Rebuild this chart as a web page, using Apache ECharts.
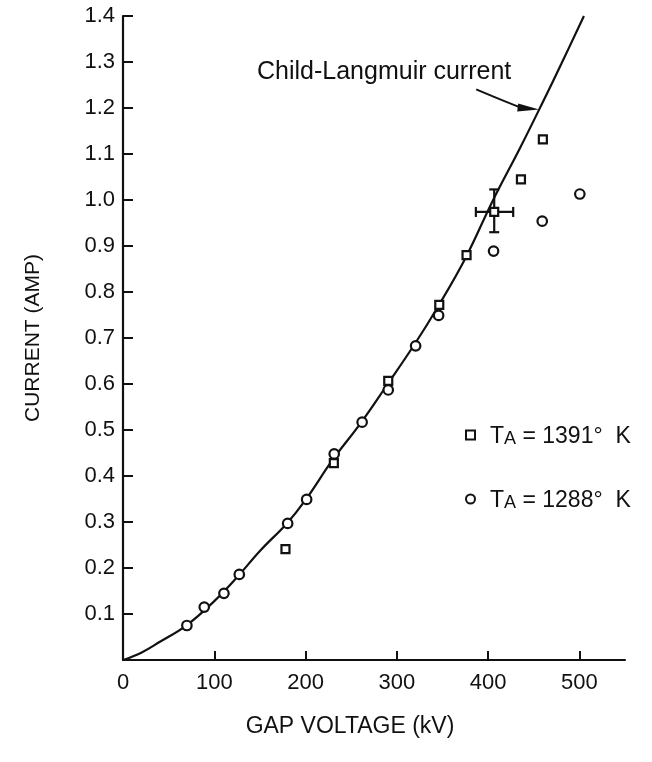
<!DOCTYPE html>
<html>
<head>
<meta charset="utf-8">
<script src="https://cdn.jsdelivr.net/npm/echarts@6/dist/echarts.min.js"></script>
<style>
html,body{margin:0;padding:0;background:#fff;}
#chart{width:652px;height:762px;}
</style>
</head>
<body>
<div id="chart"></div>
<script>
// Tick labels
var xTickValues = [0, 100, 200, 300, 400, 500];
var xTickMarks = [100, 200, 300, 400, 500];
var yTickValues = [0.1, 0.2, 0.3, 0.4, 0.5, 0.6, 0.7, 0.8, 0.9, 1.0, 1.1, 1.2, 1.3, 1.4];

// Child-Langmuir curve
var curveV = [0, 20, 40, 70, 100, 125, 150, 180, 200, 230, 260, 290, 320, 345, 375, 405, 435, 460, 480, 505];
var curveI = [0, 0.016, 0.039, 0.076, 0.128, 0.180, 0.237, 0.298, 0.348, 0.436, 0.514, 0.600, 0.688, 0.768, 0.873, 0.998, 1.113, 1.213, 1.295, 1.400];

// TA = 1391 K (squares)
var sqV = [178, 231, 290.6, 346.5, 376.4, 406.7, 436, 460];
var sqI = [0.241, 0.428, 0.607, 0.772, 0.880, 0.974, 1.045, 1.132];

// TA = 1288 K (circles)
var ciV = [70, 89, 110.6, 127.4, 180.4, 201.2, 231.4, 262, 290.6, 320.6, 345.8, 406, 459.3, 500.5];
var ciI = [0.075, 0.115, 0.145, 0.186, 0.297, 0.349, 0.448, 0.517, 0.587, 0.683, 0.749, 0.889, 0.954, 1.013];

// Error bar on one square point
var errV = [406.7];
var errI = [0.974];
var errVLow = [386.6];
var errVHigh = [427.5];
var errILow = [0.930];
var errIHigh = [1.023];

var seriesNames = ['T_A = 1391°  K', 'T_A = 1288°  K'];
var annotationText = 'Child-Langmuir current';

function zip(a, b) { return a.map(function (v, k) { return [v, b[k]]; }); }

var FONT = '"Liberation Sans", Arial, Helvetica, sans-serif';
var chart = echarts.init(document.getElementById('chart'), null, {renderer: 'canvas'});

var errData = errV.map(function (v, k) {
  return [v, errI[k], errVLow[k], errVHigh[k], errILow[k], errIHigh[k]];
});

var option = {
  animation: false,
  backgroundColor: '#fff',
  grid: {left: 123, right: 27, top: 16, bottom: 102, containLabel: false},
  xAxis: {
    type: 'value', min: 0, max: 550,
    name: 'GAP VOLTAGE (kV)', nameLocation: 'middle', nameGap: 55,
    nameTextStyle: {fontFamily: FONT, fontSize: 23, color: '#111', padding: [0, 48, 0, 0]},
    axisLine: {show: true, onZero: false, lineStyle: {color: '#111', width: 2.2}},
    axisTick: {show: true, inside: true, length: 9, lineStyle: {color: '#111', width: 2}, customValues: xTickMarks},
    axisLabel: {fontFamily: FONT, fontSize: 22, color: '#111', margin: 12, customValues: xTickValues},
    splitLine: {show: false}
  },
  yAxis: {
    type: 'value', min: 0, max: 1.4,
    name: 'CURRENT (AMP)', nameLocation: 'middle', nameGap: 79,
    nameTextStyle: {fontFamily: FONT, fontSize: 21, color: '#111'},
    axisLine: {show: true, onZero: false, lineStyle: {color: '#111', width: 2.2}},
    axisTick: {show: true, inside: true, length: 10, lineStyle: {color: '#111', width: 2}, customValues: yTickValues},
    axisLabel: {fontFamily: FONT, fontSize: 22, color: '#111', margin: 8, customValues: yTickValues,
      formatter: function (v) { return v.toFixed(1); }},
    splitLine: {show: false}
  },
  legend: {
    orient: 'vertical', left: 460, top: 417, itemGap: 38,
    itemWidth: 9, itemHeight: 9,
    data: [{name: seriesNames[0], icon: 'rect'}, {name: seriesNames[1], icon: 'circle'}],
    formatter: function (name) {
      var rest = name.replace('T_A', '');
      return '{t|T}{s|A}{t|' + rest + '}';
    },
    textStyle: {
      fontFamily: FONT, fontSize: 23, color: '#111', lineHeight: 26,
      rich: {
        t: {fontFamily: FONT, fontSize: 23, color: '#111', lineHeight: 26, verticalAlign: 'bottom'},
        s: {fontFamily: FONT, fontSize: 18, color: '#111', lineHeight: 26, verticalAlign: 'bottom'}
      },
      padding: [0, 0, 0, 10]
    }
  },
  series: [
    {
      type: 'line', name: 'curve', data: zip(curveV, curveI), smooth: 0.4,
      showSymbol: false, symbol: 'none', lineStyle: {color: '#111', width: 2.2}, z: 2, silent: true
    },
    {
      type: 'custom', name: 'err', data: errData, z: 3, silent: true,
      renderItem: function (params, api) {
        var c = api.coord([api.value(0), api.value(1)]);
        var l = api.coord([api.value(2), api.value(1)]);
        var r = api.coord([api.value(3), api.value(1)]);
        var lo = api.coord([api.value(0), api.value(4)]);
        var hi = api.coord([api.value(0), api.value(5)]);
        var cap = 5;
        var st = {stroke: '#111', lineWidth: 2.2};
        return {type: 'group', children: [
          {type: 'line', shape: {x1: l[0], y1: c[1], x2: r[0], y2: c[1]}, style: st},
          {type: 'line', shape: {x1: l[0], y1: c[1] - cap, x2: l[0], y2: c[1] + cap}, style: st},
          {type: 'line', shape: {x1: r[0], y1: c[1] - cap, x2: r[0], y2: c[1] + cap}, style: st},
          {type: 'line', shape: {x1: c[0], y1: lo[1], x2: c[0], y2: hi[1]}, style: st},
          {type: 'line', shape: {x1: c[0] - cap, y1: lo[1], x2: c[0] + cap, y2: lo[1]}, style: st},
          {type: 'line', shape: {x1: c[0] - cap, y1: hi[1], x2: c[0] + cap, y2: hi[1]}, style: st}
        ]};
      }
    },
    {
      type: 'scatter', name: seriesNames[0], data: zip(sqV, sqI), symbol: 'rect', symbolSize: 8, z: 5,
      itemStyle: {color: '#fff', borderColor: '#111', borderWidth: 2.2, opacity: 1}
    },
    {
      type: 'scatter', name: seriesNames[1], data: zip(ciV, ciI), symbol: 'circle', symbolSize: 9.5, z: 4,
      itemStyle: {color: '#fff', borderColor: '#111', borderWidth: 2.2, opacity: 1}
    }
  ]
};
chart.setOption(option);

// annotation with arrow pointing at the curve
var tip = chart.convertToPixel({gridIndex: 0}, [456, 1.197]);
chart.setOption({
  graphic: [
    {type: 'text', left: 257, top: 60, silent: true,
      style: {text: annotationText, fontFamily: FONT, fontSize: 25, fill: '#111'}},
    {type: 'bezierCurve', silent: true,
      shape: {x1: tip[0] - 63, y1: tip[1] - 20, cpx1: tip[0] - 30, cpy1: tip[1] - 6, x2: tip[0] - 16, y2: tip[1] - 1},
      style: {stroke: '#111', lineWidth: 2, fill: null}},
    {type: 'polygon', silent: true,
      shape: {points: [[tip[0], tip[1]], [tip[0] - 21, tip[1] - 6], [tip[0] - 22, tip[1] + 2]]},
      style: {fill: '#111'}}
  ]
});
</script>
</body>
</html>
